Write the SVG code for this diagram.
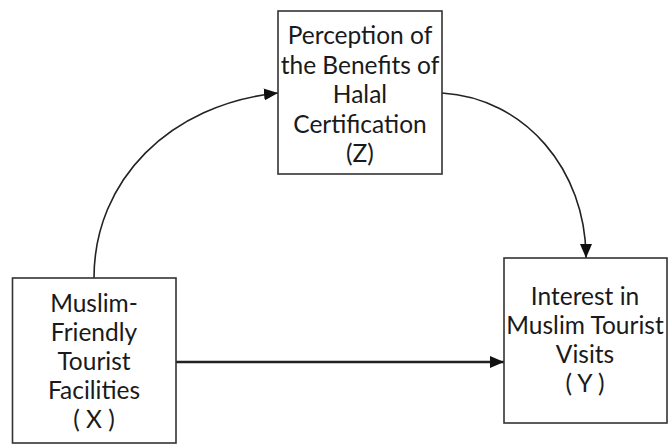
<svg xmlns="http://www.w3.org/2000/svg" width="668" height="444" viewBox="0 0 668 444">
<style>
.box{fill:#fff;stroke:#333;stroke-width:1.6}
.lbl{font-family:Lato,"Liberation Sans",sans-serif;font-size:24.5px;fill:#1a1a1a;text-anchor:middle}
.con{fill:none;stroke:#222;stroke-width:1.6}
</style>
<defs>
<marker id="ah" viewBox="0 0 14 12" refX="14" refY="6" markerWidth="14" markerHeight="12" markerUnits="userSpaceOnUse" orient="auto">
<path d="M0,0 L14,6 L0,12 Z" fill="#111"/>
</marker>
</defs>
<g id="connectors">
<path class="con" d="M94,278 C94,180 170,104 278,93" marker-end="url(#ah)"/>
<path class="con" d="M442,93 C525,98 586,170 586,258" marker-end="url(#ah)"/>
<path class="con" style="stroke-width:2.6" d="M176,362 L504,362" marker-end="url(#ah)"/>
</g>
<g id="nodeZ">
<rect class="box" x="278" y="11" width="164" height="163"/>
<text class="lbl" x="360" y="44">Perception of</text>
<text class="lbl" x="360" y="73.5">the Benefits of</text>
<text class="lbl" x="360" y="103">Halal</text>
<text class="lbl" x="360" y="132.5">Certification</text>
<text class="lbl" x="360" y="162">(Z)</text>
</g>
<g id="nodeX">
<rect class="box" x="12.5" y="278" width="163.5" height="165"/>
<text class="lbl" x="94" y="312">Muslim-</text>
<text class="lbl" x="94" y="341">Friendly</text>
<text class="lbl" x="94" y="370">Tourist</text>
<text class="lbl" x="94" y="399">Facilities</text>
<text class="lbl" x="94" y="428">( X )</text>
</g>
<g id="nodeY">
<rect class="box" x="504" y="258" width="163" height="165"/>
<text class="lbl" x="585" y="305">Interest in</text>
<text class="lbl" x="585" y="334">Muslim Tourist</text>
<text class="lbl" x="585" y="363">Visits</text>
<text class="lbl" x="585" y="392">( Y )</text>
</g>
</svg>
